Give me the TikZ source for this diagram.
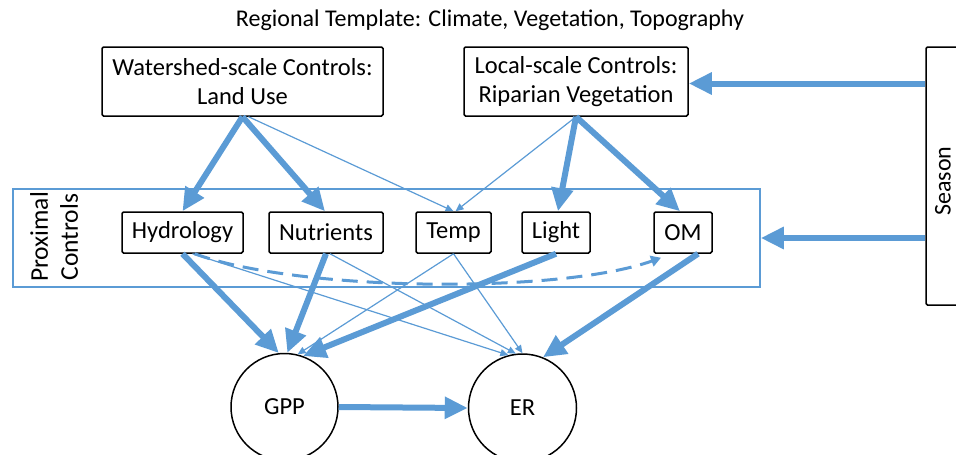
\documentclass[tikz,border=0pt]{standalone}
\usepackage{fontspec}
\setmainfont{Carlito}
\usetikzlibrary{arrows.meta}
\definecolor{arrblue}{RGB}{91,155,213}
\begin{document}
\begin{tikzpicture}[x=1pt,y=-1pt,
  lbl/.style={font=\fontsize{24}{29}\selectfont, align=center, inner sep=0pt},
  box/.style={draw=black, line width=1.5pt, rounded corners=1.5pt, align=center, inner sep=0pt, font=\fontsize{24.5}{29}\selectfont},
  circ/.style={draw=black, line width=1.5pt, circle, inner sep=0pt, font=\fontsize{24.5}{29}\selectfont},
  thickarrow/.style={draw=arrblue, line width=6pt, -{Triangle[length=23pt,width=21pt]}},
  thinarrow/.style={draw=arrblue, line width=1.2pt, -{Triangle[length=8pt,width=7pt]}},
  dasharrow/.style={draw=arrblue, line width=3pt, dash pattern=on 16pt off 9pt, -{Triangle[length=10pt,width=11pt]}},
]
\useasboundingbox (0,0) rectangle (956,455);

% title
\node[lbl] (title) at (490,20) {Regional Template: Climate, Vegetation, Topography};

% upper boxes
\node[box, minimum width=281pt, minimum height=69pt] (ws) at (242.5,81.5) {Watershed-scale Controls:\\Land Use};
\node[box, minimum width=224pt, minimum height=69pt] (loc) at (576,81.5) {Local-scale Controls:\\Riparian Vegetation};

% season
\node[box, minimum width=44pt, minimum height=258pt] (season) at (948,176) {};
\node[lbl, rotate=90] (seasontext) at (943,181) {Season};

% proximal box
\node[draw=arrblue, line width=1.5pt, minimum width=747pt, minimum height=98pt, inner sep=0pt] (prox) at (386.5,238) {};
\node[lbl, rotate=90, font=\fontsize{25.5}{30}\selectfont] (proxtext) at (54,237) {Proximal\\Controls};

% proximal controls
\node[box, minimum width=121pt, minimum height=41pt] (hyd) at (182.5,232.5) {Hydrology};
\node[box, minimum width=114pt, minimum height=41pt] (nut) at (326,232.5) {Nutrients};
\node[box, minimum width=75pt, minimum height=41pt] (temp) at (453.5,232.5) {Temp};
\node[box, minimum width=68pt, minimum height=41pt] (light) at (556,232.5) {Light};
\node[box, minimum width=58pt, minimum height=41pt] (om) at (683,232.5) {OM};

% outcomes
\node[circ, minimum size=107pt] (gpp) at (284.5,407) {GPP};
\node[circ, minimum size=108pt] (er) at (522.5,408) {ER};

% top arrows
\draw[thickarrow] (ws.south) -- (hyd.north);
\draw[thickarrow] (ws.south) -- ([xshift=-1pt]nut.north);
\draw[thinarrow] ([xshift=6pt]ws.south) -- (temp.north);
\draw[thinarrow] (loc.south) -- ([xshift=2pt]temp.north);
\draw[thickarrow] (loc.south) -- ([xshift=2pt]light.north);
\draw[thickarrow] (loc.south) -- ([xshift=-3pt]om.north);

% season arrows
\draw[thickarrow] ([yshift=-2pt]season.west |- loc.east) -- ([yshift=-2pt]loc.east);
\draw[thickarrow] (season.west |- prox.east) -- (prox.east);

% dashed hydrology -> OM
\draw[dasharrow] ([xshift=12pt]hyd.south) .. controls (300,292) and (560,294) .. ([xshift=-22pt,yshift=-4pt]om.south);

% bottom arrows
\draw[thinarrow] ([xshift=10pt]hyd.south) -- (er.105);
\draw[thinarrow] ([xshift=4pt]nut.south) -- (er.97);
\draw[thinarrow] (temp.south) -- (er.90);
\draw[thinarrow] (temp.south) -- (gpp.76);
\draw[thickarrow] (hyd.south) -- (gpp.96);
\draw[thickarrow] (nut.south) -- (gpp.87);
\draw[thickarrow] (light.south) -- (gpp.70);
\draw[thickarrow] ([xshift=15pt]om.south) -- (er.68);
\draw[thickarrow] (gpp.east) -- (er.west);
\end{tikzpicture}
\end{document}
